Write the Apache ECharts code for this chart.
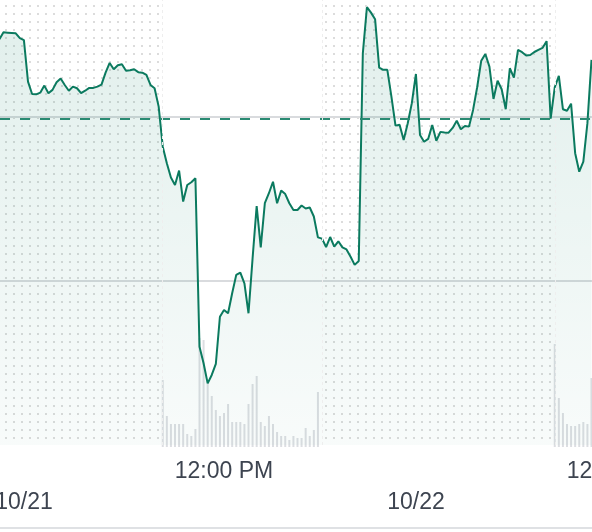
<!DOCTYPE html>
<html><head><meta charset="utf-8">
<script src="https://cdn.jsdelivr.net/npm/echarts@6/dist/echarts.min.js"></script>
<style>html,body{margin:0;padding:0;background:#fff;overflow:hidden;width:592px;height:532px}#c{width:1000px;height:532px}</style>
</head><body><div id="c"></div><script>
// ---- data ----
const sessionDates = ['10/20', '10/21', '10/22', '10/23'];
const timeTickLabel = '12:00 PM';
const prevClose = 189.92;
// 10-minute prices
const ah1020Start = '18:50';
const ah1020Prices = [194.74, 195.16, 195.14, 195.12, 195.10, 194.80, 194.68];
const pre1021Prices = [192.15, 191.40, 191.38, 191.48, 191.91, 191.45, 191.65, 192.12, 192.34, 191.95, 191.60, 191.85, 191.75, 191.45, 191.60, 191.77, 191.77, 191.85, 191.97, 192.70, 193.29, 192.91, 193.15, 193.21, 192.82, 192.85, 192.91, 192.73, 192.70, 192.56, 191.95, 191.75, 190.63];
const reg1021Prices = [188.19, 187.18, 186.31, 185.85, 186.73, 184.84, 185.85, 186.02, 186.26, 175.99, 174.98, 173.76, 174.27, 174.94, 177.82, 178.23, 178.03, 179.25, 180.37, 180.51, 179.86, 178.03, 181.38, 184.57, 182.05, 184.74, 185.35, 186.05, 184.74, 185.51, 185.30, 184.74, 184.33, 184.33, 184.60, 184.42, 184.48, 183.93, 182.66];
const ah1021Prices = [182.58, 182.07, 182.68, 182.10, 182.42, 182.05, 181.92, 181.48, 180.98, 181.22, 193.88, 196.69, 196.36, 195.96, 193.01, 192.87, 192.87, 191.24, 189.47, 189.53, 188.60, 189.62, 190.84, 192.62];
const pre1022Prices = [188.90, 188.49, 188.66, 189.51, 188.55, 189.09, 189.05, 189.04, 189.33, 189.77, 189.25, 189.45, 189.41, 190.43, 191.81, 193.43, 193.84, 193.07, 191.10, 192.21, 191.69, 190.47, 192.97, 192.40, 194.09, 193.95, 193.74, 193.78, 193.96, 194.09, 194.21, 194.62, 189.90];
const reg1022Prices = [191.81, 192.50, 190.47, 190.38, 190.81, 187.79, 186.66, 187.27, 189.62, 193.48];
// 10-minute volume (thousands), regular session
const vol1021 = [670, 310, 230, 230, 230, 230, 130, 110, 180, 1090, 1070, 640, 510, 370, 310, 340, 430, 250, 250, 250, 230, 430, 630, 710, 250, 210, 310, 230, 150, 110, 110, 70, 110, 90, 90, 190, 110, 170, 550];
const vol1022 = [1030, 490, 340, 230, 210, 210, 230, 250, 230, 690];
// axis label positions (session hours from 10/21 04:00)
const timeTickPositions = [8, 24];
const dateTickPositions = [0, 16, 32];

// ---- helpers: sessions 04:00-20:00 placed end to end ----
function mins(hhmm) { const p = hhmm.split(':').map(Number); return p[0] * 60 + p[1]; }
function pos(dayIdx, hhmm) { return (dayIdx - 1) * 16 + mins(hhmm) / 60 - 4; }
function seg(dayIdx, start, arr) {
  const s = mins(start);
  return arr.map((v, i) => [(dayIdx - 1) * 16 + (s + i * 10) / 60 - 4, v]);
}
const priceData = [].concat(
  seg(0, ah1020Start, ah1020Prices),
  seg(1, '04:00', pre1021Prices),
  seg(1, '09:30', reg1021Prices),
  seg(1, '16:00', ah1021Prices),
  seg(2, '04:00', pre1022Prices),
  seg(2, '09:30', reg1022Prices)
);
const volData = [].concat(seg(1, '09:30', vol1021), seg(2, '09:30', vol1022));

const tile = document.createElement('canvas');
tile.width = 8; tile.height = 8;
const tg = tile.getContext('2d');
tg.fillStyle = '#dcdcdc';
tg.fillRect(5, 5, 2, 2);

const labelColor = '#3d4450';
const font = 'Liberation Sans';
const PXH = 24.5;                // pixels per session hour
const X0 = -28 / PXH;            // visible window start
const GW = 1000;                 // chart wider than the window, cropped on the right
const X1 = X0 + GW / PXH;

const chart = echarts.init(document.getElementById('c'), null, { renderer: 'canvas' });
chart.setOption({
  animation: false,
  backgroundColor: '#ffffff',
  grid: [
    { left: 0, right: 0, top: 0, bottom: 87, outerBoundsMode: 'none', containLabel: false },
    { left: 0, right: 0, bottom: 85, height: 120, outerBoundsMode: 'none', containLabel: false }
  ],
  xAxis: [
    { gridIndex: 0, type: 'value', min: X0, max: X1,
      axisLine: { show: false }, axisTick: { show: false }, splitLine: { show: false },
      axisLabel: { customValues: timeTickPositions, margin: 15, fontSize: 23, fontFamily: font, color: labelColor,
        formatter: () => timeTickLabel } },
    { gridIndex: 0, type: 'value', position: 'bottom', offset: 83, min: X0, max: X1,
      axisLine: { show: true, lineStyle: { color: '#dfe1e4', width: 2 } },
      axisTick: { show: false }, splitLine: { show: false },
      axisLabel: { customValues: dateTickPositions, inside: true, margin: 14, fontSize: 23, fontFamily: font, color: labelColor,
        padding: [0, 8, 0, 0], formatter: v => sessionDates[Math.round(v / 16) + 1] || '' } },
    { gridIndex: 1, type: 'value', min: X0, max: X1, show: false }
  ],
  yAxis: [
    { gridIndex: 0, type: 'value', min: 170, max: 197.13, interval: 10,
      axisLine: { show: false }, axisTick: { show: false }, axisLabel: { show: false },
      splitLine: { show: true, showMinLine: false, showMaxLine: false, lineStyle: { color: '#d9dbde', width: 2 } } },
    { gridIndex: 1, type: 'value', min: 0, max: 1200, show: false, splitLine: { show: false } }
  ],
  series: [
    { type: 'bar', xAxisIndex: 2, yAxisIndex: 1, data: volData, barWidth: 2,
      itemStyle: { color: '#dcdee2' }, z: 1, silent: true },
    { type: 'line', xAxisIndex: 0, yAxisIndex: 0, data: priceData, showSymbol: false, z: 3,
      lineStyle: { color: '#0b7a5f', width: 2 },
      areaStyle: { color: new echarts.graphic.LinearGradient(0, 0, 0, 1, [
        { offset: 0, color: 'rgba(0,122,94,0.17)' },
        { offset: 1, color: 'rgba(0,122,94,0.04)' }]) },
      markArea: { silent: true, itemStyle: { color: { image: tile, repeat: 'repeat' } },
        data: [
          [{ xAxis: X0 }, { xAxis: pos(1, '09:30') }],
          [{ xAxis: pos(1, '16:00') }, { xAxis: pos(2, '09:30') }]
        ] },
      markLine: { silent: true, symbol: 'none', label: { show: false },
        data: [
          { yAxis: prevClose, lineStyle: { color: '#2a8a72', type: [10, 10], width: 2 } },
          { xAxis: pos(1, '09:30'), lineStyle: { color: '#eeeeee', type: [3, 3], width: 1 } },
          { xAxis: pos(1, '16:00'), lineStyle: { color: '#eeeeee', type: [3, 3], width: 1 } },
          { xAxis: pos(2, '09:30'), lineStyle: { color: '#eeeeee', type: [3, 3], width: 1 } }
        ] }
    }
  ]
});
</script></body></html>
